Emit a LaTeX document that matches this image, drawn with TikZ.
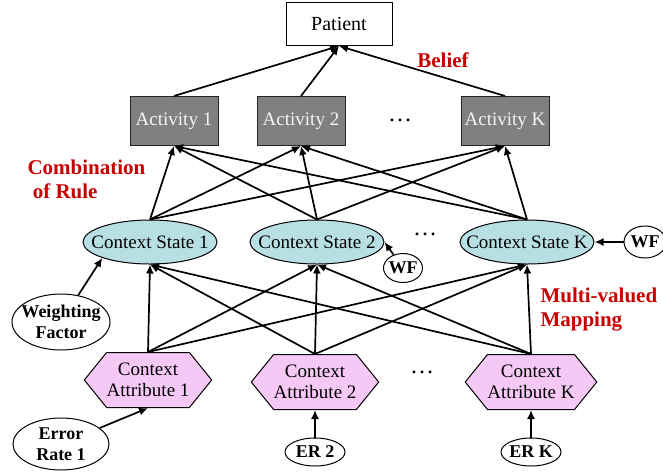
\documentclass[tikz,border=0pt]{standalone}
\usepackage{fontspec}
\setmainfont{Liberation Serif}
\usetikzlibrary{shapes.geometric,shapes.symbols,arrows.meta}
\definecolor{actgray}{RGB}{128,128,128}
\definecolor{csfill}{RGB}{184,224,228}
\definecolor{cafill}{RGB}{246,200,246}
\definecolor{lblred}{RGB}{200,0,0}
\newcommand{\ztext}[1]{\makebox[0pt]{#1}}
\tikzset{
  conn/.style={line width=1.7pt,-{Latex[length=9pt,width=8pt]}},
  patbox/.style={rectangle,draw,line width=1pt,fill=white,minimum width=106pt,minimum height=43pt,font=\fontsize{20}{22}\selectfont},
  actbox/.style={rectangle,draw=black!85,line width=1pt,fill=actgray,text=white!92!gray,minimum width=88pt,minimum height=49pt,inner sep=1pt,font=\fontsize{19}{21}\selectfont},
  csell/.style={ellipse,draw,line width=1pt,fill=csfill,minimum width=134pt,minimum height=44pt,inner sep=0pt,font=\fontsize{19}{21}\selectfont},
  cahex/.style={signal,signal to=east and west,signal pointer angle=102,draw,line width=1pt,fill=cafill,minimum width=125pt,minimum height=55pt,inner sep=0pt,align=center,font=\fontsize{19}{21}\selectfont},
  wfell/.style={ellipse,draw,line width=1pt,fill=white,inner sep=0pt,align=center,font=\bfseries\fontsize{18}{21}\selectfont},
  redlbl/.style={text=lblred,font=\bfseries\fontsize{21}{24}\selectfont,align=left},
  dots/.style={font=\fontsize{24}{24}\selectfont}
}
\begin{document}
\begin{tikzpicture}[x=1pt,y=-1pt]
\useasboundingbox (0,0) rectangle (663,472);
% nodes
\node[patbox] (P) at (339,24) {Patient};
\node[actbox] (A1) at (174,121) {Activity 1};
\node[actbox] (A2) at (301,121) {Activity 2};
\node[actbox] (AK) at (505,121) {Activity K};
\node[dots] (d1) at (400,120) {\dots};
\node[csell] (C1) at (150,242) {\ztext{Context State 1}};
\node[csell] (C2) at (317,242) {\ztext{Context State 2}};
\node[csell] (CK) at (527,242) {\ztext{Context State K}};
\node[dots] (d2) at (425,234) {\dots};
\node[cahex] (T1) at (148,380) {Context\\Attribute 1};
\node[cahex] (T2) at (315,382) {Context\\Attribute 2};
\node[cahex] (TK) at (531,382) {Context\\Attribute K};
\node[dots] (d3) at (422,372) {\dots};
\node[wfell,minimum width=98pt,minimum height=56pt] (WF1) at (61,322) {\ztext{Weighting}\\\ztext{Factor}};
\node[wfell,minimum width=96pt,minimum height=52pt] (ER1) at (61,444) {\ztext{Error}\\\ztext{Rate 1}};
\node[wfell,minimum width=60pt,minimum height=28pt] (ER2) at (315,452) {\ztext{ER 2}};
\node[wfell,minimum width=60pt,minimum height=28pt] (ERK) at (531,452) {\ztext{ER K}};
\node[wfell,minimum width=39pt,minimum height=29pt] (WF2) at (403,268) {\ztext{WF}};
\node[wfell,minimum width=42pt,minimum height=32pt] (WFK) at (645,242) {\ztext{WF}};
\node[redlbl] (belief) at (443,60) {Belief};
\node[redlbl,anchor=west] (comb) at (24,179) {Combination\\\ of Rule};
\node[redlbl,anchor=west] (mvm) at (537,310) {Multi-valued\\Mapping};
% activity -> patient
\draw[conn] (A1.north) -- (P.south);
\draw[conn] (A2.north) -- (P.south);
\draw[conn] (AK.north) -- (P.south);
% context states -> activities
\foreach \c in {C1,C2,CK}{
  \foreach \a in {A1,A2,AK}{
    \draw[conn] (\c.north) -- (\a.south);
  }
}
% attributes -> context states
\foreach \t in {T1,T2,TK}{
  \foreach \c in {C1,C2,CK}{
    \draw[conn] (\t.north) -- (\c.south);
  }
}
% weights and errors
\draw[conn] (WF1) -- (C1.south west);
\draw[conn] (WF2) -- (C2.east);
\draw[conn] (WFK) -- (CK.east);
\draw[conn] (ER1) -- (T1.south);
\draw[conn] (ER2) -- (T2.south);
\draw[conn] (ERK) -- (TK.south);
\end{tikzpicture}
\end{document}
